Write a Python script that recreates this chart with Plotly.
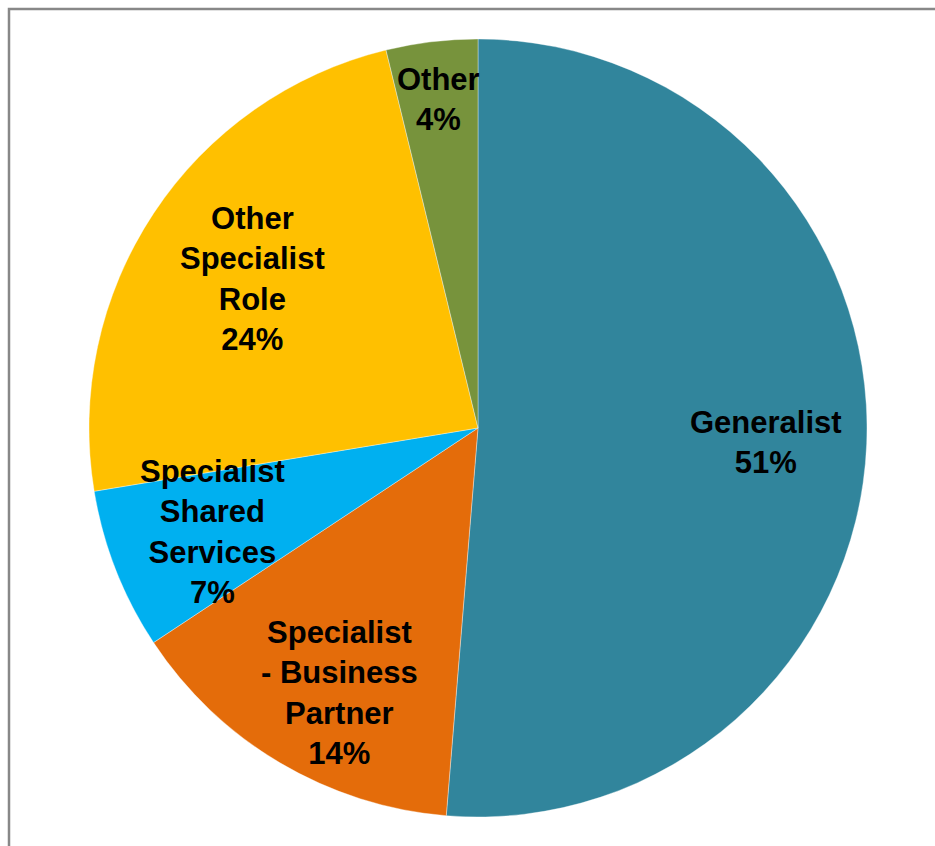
import math
import plotly.graph_objects as go

# Data
categories = ["Generalist", "Specialist - Business Partner", "Specialist Shared Services",
              "Other Specialist Role", "Other"]
values = [51.3, 14.4, 6.7, 23.8, 3.8]
label_texts = ["Generalist", "Specialist<br>- Business<br>Partner", "Specialist<br>Shared<br>Services",
               "Other<br>Specialist<br>Role", "Other"]
colors = ["#31859C", "#E46C0A", "#00B0F0", "#FFC000", "#77933C"]

W, H = 935, 846
cx, cy, R = 478, 428, 389  # pixel centre / radius (layout)
dom_x = [(cx - R) / W, (cx + R) / W]
dom_y = [(H - (cy + R)) / H, (H - (cy - R)) / H]

fig = go.Figure(go.Pie(
    labels=categories, values=values, sort=False, direction="clockwise", rotation=0,
    marker=dict(colors=colors, line=dict(color="rgba(255,255,255,0.6)", width=0.6)),
    textinfo="none", hoverinfo="label+percent", showlegend=False,
    domain=dict(x=dom_x, y=dom_y),
))

# labels placed along each slice's mid-angle (style: radial fraction, angle nudge in degrees)
radial = [0.74, 0.768, 0.733, 0.696, 0.85]
nudge = [0.5, -3.0, 0.0, 0.0, 0.0]
total = sum(values)
cum = 0
annotations = []
for cat, txt, v, rf, dg in zip(categories, label_texts, values, radial, nudge):
    mid = (cum + v / 2) / total * 2 * math.pi + math.radians(dg)
    cum += v
    px = cx + rf * R * math.sin(mid)
    py = cy - rf * R * math.cos(mid)
    pct = round(v / total * 100)
    annotations.append(dict(
        x=px / W, y=1 - py / H, xref="paper", yref="paper",
        text=f"<b>{txt}<br>{pct}%</b>", showarrow=False,
        xanchor="center", yanchor="middle", align="center",
        font=dict(family="Liberation Sans, Arial, sans-serif", size=31, color="black"),
    ))

fig.update_layout(
    width=W, height=H, margin=dict(l=0, r=0, t=0, b=0),
    paper_bgcolor="white", plot_bgcolor="white",
    annotations=annotations,
    shapes=[dict(type="rect", xref="paper", yref="paper",
                 x0=9 / W, x1=1.05, y0=-0.05, y1=1 - 9 / H,
                 line=dict(color="#888888", width=2.5), fillcolor="rgba(0,0,0,0)")],
)

fig.write_html("out.html")
